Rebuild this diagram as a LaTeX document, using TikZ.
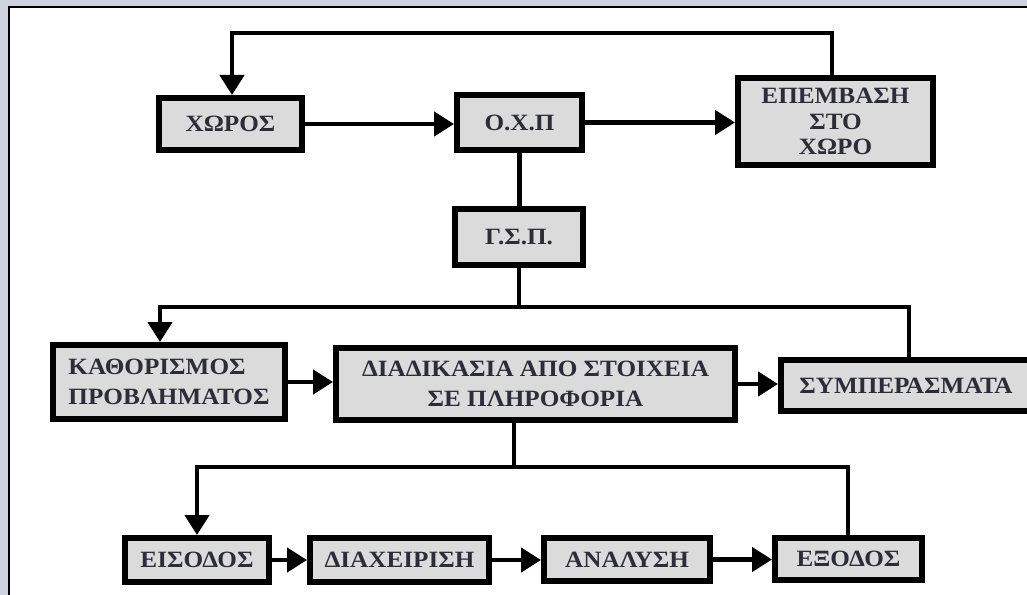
\documentclass[tikz,border=0pt]{standalone}
\usepackage{fontspec}
\setmainfont{Liberation Serif}[FakeStretch=1.08]
\usetikzlibrary{arrows.meta}
\definecolor{boxfill}{RGB}{219,219,219}
\definecolor{txt}{RGB}{45,45,55}
\definecolor{outerbg}{RGB}{206,209,222}
\tikzset{
 box/.style={draw=black, line width=4.5pt, fill=boxfill, inner sep=0pt, text=txt,
   font=\bfseries\fontsize{17.5}{22}\selectfont, align=center},
 conn/.style={line width=3.4pt},
 arr/.style={conn, -{Triangle[width=18pt,length=15pt]}},
}
\begin{document}
\begin{tikzpicture}[x=0.75pt,y=-0.75pt]
\useasboundingbox (0,0) rectangle (1027,595);
\clip (0,0) rectangle (1027,595);
\fill[outerbg] (0,0) rectangle (1027,595);
\draw[line width=1.5pt, fill=white] (9,7) rectangle (1040,610);

\node[box, minimum width=107.25pt, minimum height=39pt] (xoros) at (230.5,124) {ΧΩΡΟΣ};
\node[box, minimum width=93.75pt, minimum height=41.25pt] (oxp) at (519.5,122.5) {Ο.Χ.Π};
\node[box, minimum width=146.25pt, minimum height=65.25pt, font=\bfseries\fontsize{17.5}{19}\selectfont] (epem) at (835.5,121.5) {ΕΠΕΜΒΑΣΗ\\ΣΤΟ\\ΧΩΡΟ};
\node[box, minimum width=96pt, minimum height=42pt] (gsp) at (519,237) {Γ.Σ.Π.};
\node[box, minimum width=174pt, minimum height=55.5pt, align=left] (kath) at (169,382) {ΚΑΘΟΡΙΣΜΟΣ\\ΠΡΟΒΛΗΜΑΤΟΣ};
\node[box, minimum width=299.25pt, minimum height=54pt] (diad) at (535.5,384) {ΔΙΑΔΙΚΑΣΙΑ ΑΠΟ ΣΤΟΙΧΕΙΑ\\ΣΕ ΠΛΗΡΟΦΟΡΙΑ};
\node[box, minimum width=187.5pt, minimum height=38.25pt] (symp) at (906,385.5) {ΣΥΜΠΕΡΑΣΜΑΤΑ};
\node[box, minimum width=108pt, minimum height=33pt] (eis) at (197,560) {ΕΙΣΟΔΟΣ};
\node[box, minimum width=134.25pt, minimum height=33pt] (diax) at (399.5,560) {ΔΙΑΧΕΙΡΙΣΗ};
\node[box, minimum width=124.5pt, minimum height=32.25pt] (anal) at (627,559.5) {ΑΝΑΛΥΣΗ};
\node[box, minimum width=110.25pt, minimum height=31.5pt] (exo) at (848.5,559) {ΕΞΟΔΟΣ};

% top feedback loop
\coordinate (t1) at (832,33);
\coordinate (t2) at (232,33);
\draw[arr] (t1 |- epem.north) -- (t1) -- (t2) -- (t2 |- xoros.north);
\draw[arr] (xoros.east) -- (xoros.east -| oxp.west);
\draw[arr] (oxp.east) -- (oxp.east -| epem.west);
\draw[conn] (oxp.south) -- (oxp.south |- gsp.north);

% middle branch
\coordinate (j1) at (519,307);
\coordinate (jl) at (160,307);
\coordinate (jr) at (909,307);
\draw[conn] (gsp.south) -- (gsp.south |- j1);
\draw[arr] (jr |- symp.north) -- (jr) -- (jl) -- (jl |- kath.north);
\draw[arr] (kath.east) -- (kath.east -| diad.west);
\draw[arr] (diad.east) -- (diad.east -| symp.west);

% bottom branch
\coordinate (j2) at (514,467);
\coordinate (bl) at (197,467);
\coordinate (br) at (848,467);
\draw[conn] (j2 |- diad.south) -- (j2);
\draw[arr] (br |- exo.north) -- (br) -- (bl) -- (bl |- eis.north);
\draw[arr] (eis.east) -- (eis.east -| diax.west);
\draw[arr] (diax.east) -- (diax.east -| anal.west);
\draw[arr] (anal.east) -- (anal.east -| exo.west);
\end{tikzpicture}
\end{document}
